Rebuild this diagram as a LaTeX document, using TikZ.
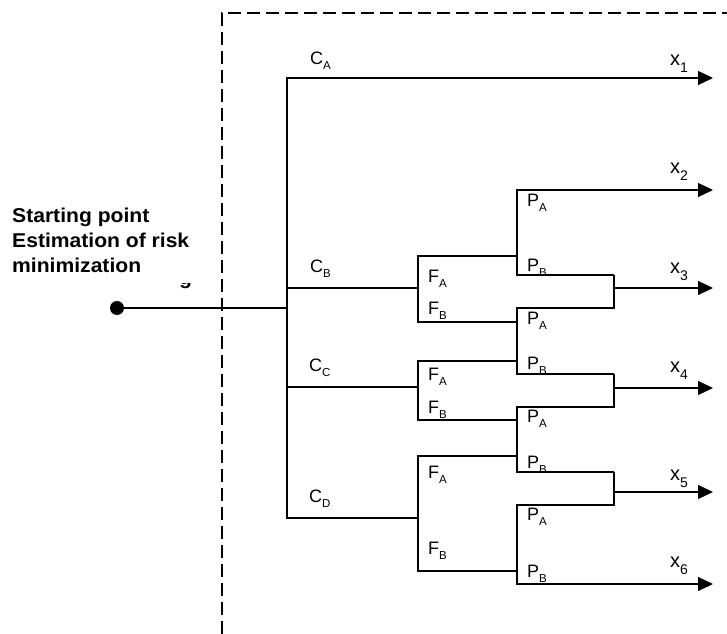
\documentclass[tikz,border=0pt]{standalone}
\usepackage{fontspec}
\setmainfont{Liberation Sans}
\newfontfamily\startfont[FakeStretch=1.055]{Liberation Sans}
\usetikzlibrary{arrows.meta}
\newcommand\sublab[2]{#1\raisebox{-5bp}{\fontsize{11.5bp}{12bp}\selectfont #2}}
\newcommand\xlab[1]{x\raisebox{-7bp}{\fontsize{14bp}{14bp}\selectfont #1}}
\tikzset{
  wire/.style={line width=1.3bp, line join=miter},
  arr/.style={wire, -{Triangle[length=15bp,width=14bp]}},
  frame/.style={line width=1.2bp, dash pattern=on 13bp off 6bp},
  lbl/.style={anchor=base west, inner sep=0pt, font=\fontsize{18bp}{20bp}\selectfont},
  xl/.style={anchor=base west, inner sep=0pt, font=\fontsize{20bp}{22bp}\selectfont},
  start/.style={anchor=base west, inner sep=0pt, font=\startfont\bfseries\fontsize{20bp}{25bp}\selectfont},
  dot/.style={circle, fill=black, inner sep=0pt, minimum size=14bp}
}
\begin{document}
\begin{tikzpicture}[x=1bp,y=-1bp]
\useasboundingbox (0,0) rectangle (727,634);
% dashed frame
\coordinate (Dbot) at (222,634);
\coordinate (Dcor) at (222,13);
\coordinate (Dend) at (727,13);
\draw[frame] (Dbot) -- (Dcor) -- (Dend);
% start
\node[dot] (S) at (117,308) {};
\node[start] (stxt) at (12,222) {\begin{tabular}[t]{@{}l@{}}Starting point\\Estimation of risk\\minimization\end{tabular}};
\begin{scope}
\clip (174,283.5) rectangle (196,292);
\node[start] (gfrag) at (179,284) {g};
\end{scope}
% trunk
\coordinate (T0) at (287,78);
\coordinate (Tb) at (287,288);
\coordinate (Ts) at (287,308);
\coordinate (Tc) at (287,387);
\coordinate (Td) at (287,518);
% F brackets
\coordinate (Fbt) at (418,256); \coordinate (Fbm) at (418,288); \coordinate (Fbb) at (418,322);
\coordinate (Fct) at (418,361); \coordinate (Fcm) at (418,387); \coordinate (Fcb) at (418,420);
\coordinate (Fdt) at (418,456); \coordinate (Fdm) at (418,518); \coordinate (Fdb) at (418,571);
% P brackets
\coordinate (P1t) at (517,190); \coordinate (P1a) at (517,256); \coordinate (P1b) at (517,275);
\coordinate (P2t) at (517,308); \coordinate (P2a) at (517,322); \coordinate (P2c) at (517,361); \coordinate (P2b) at (517,374);
\coordinate (P3t) at (517,407); \coordinate (P3a) at (517,420); \coordinate (P3c) at (517,456); \coordinate (P3b) at (517,472);
\coordinate (P4t) at (517,505); \coordinate (P4a) at (517,571); \coordinate (P4b) at (517,584);
% merges
\coordinate (M1t) at (614,275); \coordinate (M1o) at (614,288); \coordinate (M1b) at (614,308);
\coordinate (M2t) at (614,374); \coordinate (M2o) at (614,388); \coordinate (M2b) at (614,407);
\coordinate (M3t) at (614,472); \coordinate (M3o) at (614,492); \coordinate (M3b) at (614,505);
% outputs
\coordinate (X1) at (713,78);
\coordinate (X2) at (713,190);
\coordinate (X3) at (713,288);
\coordinate (X4) at (713,388);
\coordinate (X5) at (713,492);
\coordinate (X6) at (713,584);
% wires
\draw[wire] (S) -- (Ts);
\draw[arr] (Fdm) -- (Td) -- (T0) -- (X1);
\draw[wire] (Tb) -- (Fbm);
\draw[wire] (Tc) -- (Fcm);
\draw[wire] (P1a) -- (Fbt) -- (Fbb) -- (P2a);
\draw[wire] (P2c) -- (Fct) -- (Fcb) -- (P3a);
\draw[wire] (P3c) -- (Fdt) -- (Fdb) -- (P4a);
\draw[arr] (M1t) -- (P1b) -- (P1t) -- (X2);
\draw[wire] (M2t) -- (P2b) -- (P2t) -- (M1b) -- (M1t);
\draw[wire] (M3t) -- (P3b) -- (P3t) -- (M2b) -- (M2t);
\draw[arr] (M3t) -- (M3b) -- (P4t) -- (P4b) -- (X6);
\draw[arr] (M1o) -- (X3);
\draw[arr] (M2o) -- (X4);
\draw[arr] (M3o) -- (X5);
% labels
\node[lbl] (lCA) at (310,65) {\sublab{C}{A}};
\node[lbl] (lCB) at (310,272) {\sublab{C}{B}};
\node[lbl] (lCC) at (309,371) {\sublab{C}{C}};
\node[lbl] (lCD) at (309,502) {\sublab{C}{D}};
\node[lbl] (lF1) at (428,282) {\sublab{F}{A}};
\node[lbl] (lF2) at (428,314) {\sublab{F}{B}};
\node[lbl] (lF3) at (428,380) {\sublab{F}{A}};
\node[lbl] (lF4) at (428,413) {\sublab{F}{B}};
\node[lbl] (lF5) at (428,478) {\sublab{F}{A}};
\node[lbl] (lF6) at (428,554) {\sublab{F}{B}};
\node[lbl] (lP1) at (527,207) {\sublab{P}{A}};
\node[lbl] (lP2) at (527,271) {\sublab{P}{B}};
\node[lbl] (lP3) at (527,324) {\sublab{P}{A}};
\node[lbl] (lP4) at (527,369) {\sublab{P}{B}};
\node[lbl] (lP5) at (527,422) {\sublab{P}{A}};
\node[lbl] (lP6) at (527,468) {\sublab{P}{B}};
\node[lbl] (lP7) at (527,520) {\sublab{P}{A}};
\node[lbl] (lP8) at (527,577) {\sublab{P}{B}};
\node[xl] (lx1) at (670,66) {\xlab{1}};
\node[xl] (lx2) at (670,174) {\xlab{2}};
\node[xl] (lx3) at (670,273) {\xlab{3}};
\node[xl] (lx4) at (670,372) {\xlab{4}};
\node[xl] (lx5) at (670,480) {\xlab{5}};
\node[xl] (lx6) at (670,567) {\xlab{6}};
\end{tikzpicture}
\end{document}
